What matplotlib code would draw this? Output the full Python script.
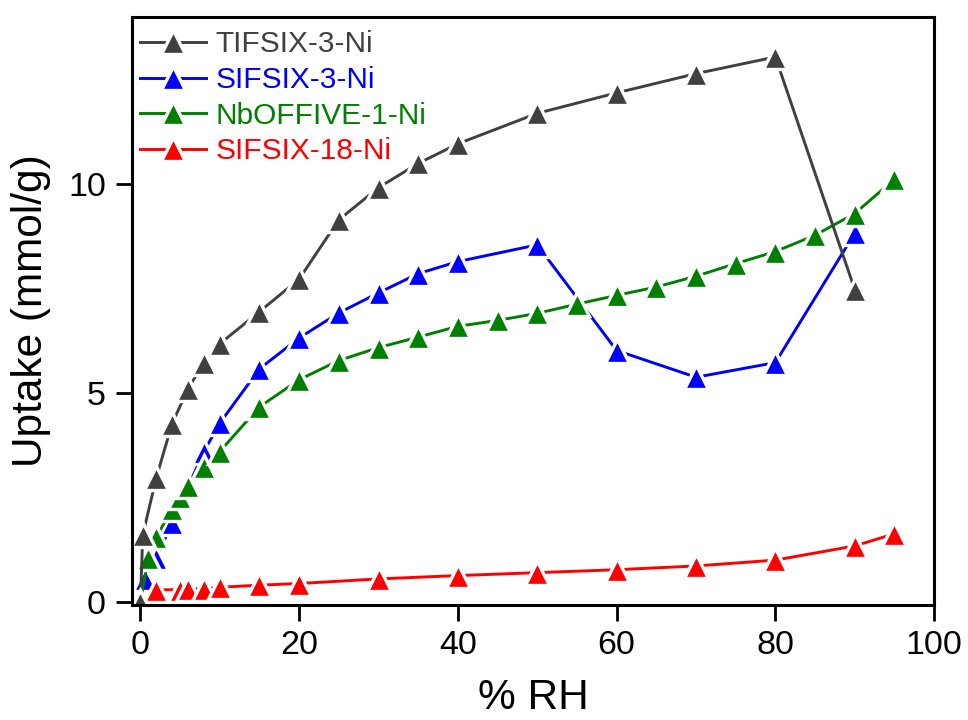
import matplotlib.pyplot as plt
from matplotlib.lines import Line2D

plt.rcParams['font.family'] = ['Liberation Sans', 'DejaVu Sans']

# water uptake isotherms (% RH vs mmol/g)
rh_tifsix = [0, 0.3, 2, 4, 6, 8, 10, 15, 20, 25, 30, 35, 40, 50, 60, 70, 80, 90]
up_tifsix = [0, 1.6, 2.97, 4.27, 5.1, 5.73, 6.18, 6.95, 7.73, 9.15, 9.92, 10.5, 10.97,
             11.7, 12.19, 12.65, 13.05, 7.48]

rh_sifsix3 = [0, 0.6, 2, 4, 8, 10, 15, 20, 25, 30, 35, 40, 50, 60, 70, 80, 90]
up_sifsix3 = [0, 0.55, 1.04, 1.9, 3.6, 4.28, 5.58, 6.32, 6.92, 7.4, 7.86, 8.15,
              8.55, 6.02, 5.38, 5.73, 8.83]

rh_nboffive = [0, 1, 2, 4, 5, 6, 8, 10, 15, 20, 25, 30, 35, 40, 45, 50, 55, 60,
               65, 70, 75, 80, 85, 90, 95]
up_nboffive = [0, 1.06, 1.55, 2.23, 2.5, 2.78, 3.22, 3.6, 4.67, 5.32, 5.78, 6.09,
               6.34, 6.6, 6.74, 6.91, 7.13, 7.34, 7.54, 7.8, 8.1, 8.39, 8.78,
               9.3, 10.12]

rh_sifsix18 = [2, 5, 6, 8, 10, 15, 20, 30, 40, 50, 60, 70, 80, 90, 95]
up_sifsix18 = [0.29, 0.29, 0.31, 0.31, 0.35, 0.4, 0.44, 0.55, 0.63, 0.7, 0.77,
               0.86, 1.0, 1.34, 1.63]

names = ['TIFSIX-3-Ni', 'SIFSIX-3-Ni', 'NbOFFIVE-1-Ni', 'SIFSIX-18-Ni']
colors = ['#404040', '#0000ff', '#008000', '#ff0000']

fig = plt.figure(figsize=(9.68, 7.2), dpi=100)
ax = fig.add_axes([0.136, 0.160, 0.829, 0.816])

mk = dict(marker='^', ms=17, mec='white', mew=2.4, lw=2.1)

series = [(rh_sifsix3, up_sifsix3, 1), (rh_nboffive, up_nboffive, 2),
          (rh_sifsix18, up_sifsix18, 3), (rh_tifsix, up_tifsix, 0)]
for x, y, i in series:
    ax.plot(x, y, color=colors[i], mfc=colors[i], **mk)

ax.set_xlim(-1.1, 100)
ax.set_ylim(-0.07, 14)
ax.set_xticks([0, 20, 40, 60, 80, 100])
ax.set_yticks([0, 5, 10])

for s in ax.spines.values():
    s.set_linewidth(2.2)
ax.tick_params(direction='out', length=11.5, width=2, labelsize=24.5, pad=7,
               top=False, right=False)

ax.set_xlabel('% RH', fontsize=30.5, labelpad=12)
ax.set_ylabel('Uptake (mmol/g)', fontsize=30.5, labelpad=12)

handles = [Line2D([], [], color=c, mfc=c, **mk) for c in colors]
leg = ax.legend(handles, names, loc='upper left', bbox_to_anchor=(0.011, 0.978),
                frameon=False, fontsize=21.5, borderaxespad=0, borderpad=0,
                handlelength=2.2, handletextpad=0.3, labelspacing=0.26)
for t, c in zip(leg.get_texts(), colors):
    t.set_color(c)

fig.savefig('out.png', dpi=100)
